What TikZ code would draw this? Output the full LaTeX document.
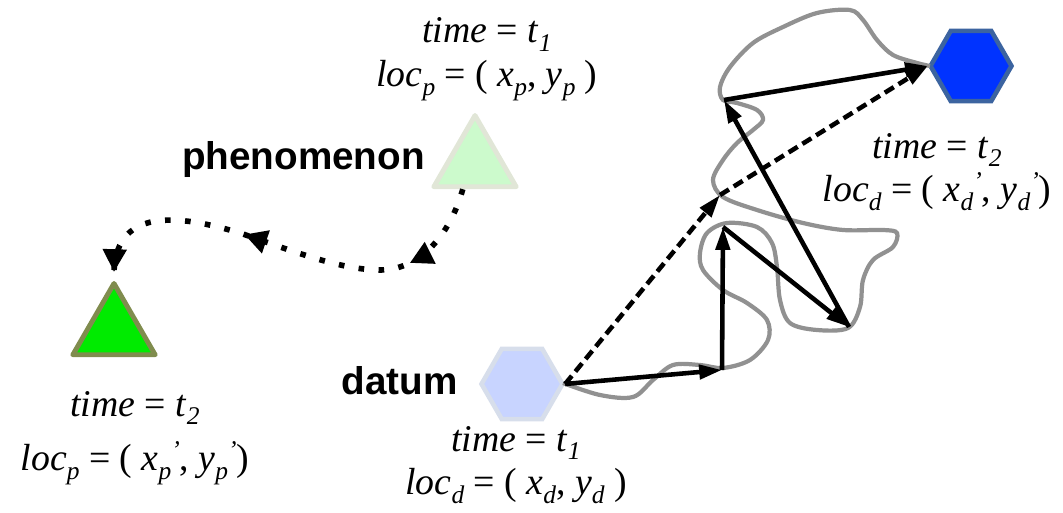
\documentclass[tikz,border=0pt]{standalone}
\usepackage{fontspec}
\setmainfont{Liberation Serif}
\setsansfont{Liberation Sans}
\usetikzlibrary{arrows.meta,shapes.geometric,decorations.markings}

\definecolor{palegreen}{RGB}{204,250,204}
\definecolor{paleedge}{RGB}{225,230,215}
\definecolor{brightgreen}{RGB}{0,235,0}
\definecolor{oliveedge}{RGB}{128,140,78}
\definecolor{paleblue}{RGB}{200,212,255}
\definecolor{paleblueedge}{RGB}{215,222,235}
\definecolor{deepblue}{RGB}{0,51,255}
\definecolor{steeledge}{RGB}{60,100,160}
\definecolor{walkgray}{RGB}{145,145,145}

\newcommand{\ivar}[2]{\textit{#1}\raisebox{-5pt}{\fontsize{14.5}{14}\selectfont\textit{#2}}}
\newcommand{\ivarq}[2]{\ivar{#1}{#2}\raisebox{7pt}{\fontsize{14.5}{14}\selectfont\textit{'}}}

\begin{document}
\begin{tikzpicture}[x=0.02cm,y=-0.02cm,line width=2.6pt,
 tri/.style={regular polygon,regular polygon sides=3,minimum size=1.9cm,inner sep=0pt,line width=2.8pt,line join=round},
 hexa/.style={regular polygon,regular polygon sides=6,minimum size=1.62cm,inner sep=0pt,line width=2.6pt},
 lab/.style={align=center,font=\fontsize{21.5}{25}\selectfont},
 word/.style={font=\sffamily\bfseries\fontsize{22}{26}\selectfont,anchor=base east,inner sep=0pt},
 hop/.style={-{Triangle[length=13pt,width=8pt]}},
 jump/.style={hop,dash pattern=on 6pt off 3.2pt},
 walk/.style={draw=walkgray,line width=2.4pt},
 trail/.style={line width=3.2pt,dash pattern=on 3.2pt off 8.2pt,
  decoration={markings,
   mark=at position 0.215 with {\arrow{Triangle[length=13pt,width=13pt]}},
   mark=at position 0.61 with {\arrow{Triangle[length=13pt,width=13pt]}},
   mark=at position 0.985 with {\arrow{Triangle[length=13pt,width=13pt]}}},
  postaction={decorate}}]
\useasboundingbox (0,0) rectangle (1063,513);
\node[hexa,fill=paleblue,draw=paleblueedge] (dt) at (522,384) {};
\node[hexa,fill=deepblue,draw=steeledge] (dn) at (971,66) {};
\node[tri,fill=palegreen,draw=paleedge] (ph) at (475,163) {};
\node[tri,fill=brightgreen,draw=oliveedge] (gr) at (114,331) {};
\node[word] (phw) at (427,170) {phenomenon};
\node[word] (dtw) at (460,395) {datum};
\node[lab] (phl) at (487,59) {\textit{time} = \ivar{t}{1}\\ \ivar{loc}{p} = ( \ivar{x}{p}, \ivar{y}{p} )};
\node[lab] (grl) at (135,438) {\textit{time} = \ivar{t}{2}\\[6pt] \ivar{loc}{p} = ( \ivarq{x}{p}, \ivarq{y}{p})};
\node[lab] (dtl) at (516,465) {\textit{time} = \ivar{t}{1}\\ \ivar{loc}{d} = ( \ivar{x}{d}, \ivar{y}{d} )};
\node[lab] (dnl) at (937,172) {\textit{time} = \ivar{t}{2}\\ \ivar{loc}{d} = ( \ivarq{x}{d}, \ivarq{y}{d})};
% phenomenon moves from t1 to t2
\draw[trail] (ph.-115) .. controls (450,235) and (420,270) .. (380,270)
 .. controls (340,270) and (290,250) .. (240,233)
 .. controls (180,215) and (112,205) .. (gr.north);
% random walk of the datum
\draw[walk] plot[smooth,tension=0.55] coordinates {(563,383) (600,395) (633,397) (653,380)
 (673,365) (700,365) (723,368) (750,360) (768,340) (767,320) (747,303) (723,290) (703,270)
 (700,253) (707,233) (727,223) (757,227) (772,243) (777,267) (780,300) (790,323) (817,330)
 (848,328) (860,307) (863,280) (873,260) (893,247) (897,233) (883,230) (843,230) (803,223)
 (757,210) (723,197) (713,180) (723,160) (737,143) (753,130) (763,120) (757,110) (737,103)
 (723,100) (720,87) (730,67) (753,43) (783,27) (817,13) (850,10) (863,20) (877,40)
 (893,55) (917,63) (930,66)};
\coordinate (w1) at (722,370);
\coordinate (w2) at (723,227);
\coordinate (w3) at (849,327);
\coordinate (w4) at (724,100);
\coordinate (d1) at (720,195);
\draw[jump] (dt.east) -- (d1);
\draw[jump] (d1) -- (dn.west);
\draw[hop] (dt.east) -- (w1);
\draw[hop] (w1) -- (w2);
\draw[hop] (w2) -- (w3);
\draw[hop] (w3) -- (w4);
\draw[hop] (w4) -- (dn.west);
\end{tikzpicture}
\end{document}
